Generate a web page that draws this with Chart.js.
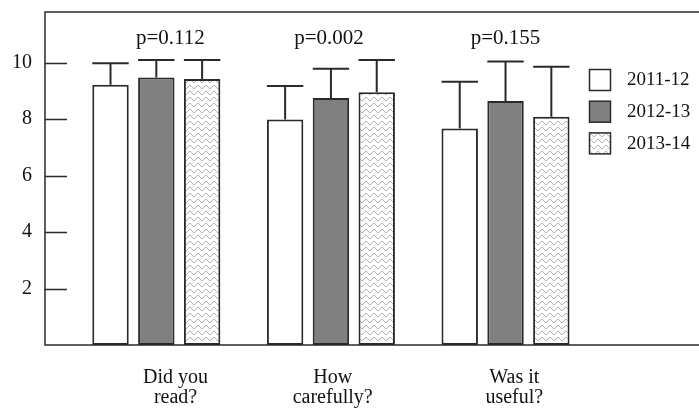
<!DOCTYPE html>
<html>
<head>
<meta charset="utf-8">
<script src="https://cdn.jsdelivr.net/npm/chart.js@4.4.0/dist/chart.umd.min.js"></script>
<style>
  html, body { margin: 0; padding: 0; background: #fff; }
  #wrap { width: 699px; height: 415px; }
</style>
</head>
<body>
<div id="wrap"><canvas id="surveyChart" width="699" height="415"></canvas></div>
<script>
// values (mean score + upper error)
const questions = [['Did you', 'read?'], ['How', 'carefully?'], ['Was it', 'useful?']];
const years = ['2011-12', '2012-13', '2013-14'];
const mean1112 = [9.22, 7.99, 7.67];
const mean1213 = [9.48, 8.75, 8.65];
const mean1314 = [9.43, 8.96, 8.09];
const err1112 = [0.76, 1.19, 1.66];
const err1213 = [0.62, 1.04, 1.40];
const err1314 = [0.67, 1.14, 1.77];
const pValues = ['p=0.112', 'p=0.002', 'p=0.155'];
const yTicks = [2, 4, 6, 8, 10];

(function () {
  const FONT = '"Liberation Serif", "Times New Roman", serif';
  const INK = '#2a2a2a';

  // wavy hatch used by the 2013-14 bars
  function wavePattern() {
    const c = document.createElement('canvas');
    c.width = 8; c.height = 6;
    const g = c.getContext('2d');
    g.fillStyle = '#fff';
    g.fillRect(0, 0, 8, 6);
    g.strokeStyle = '#999';
    g.lineWidth = 1;
    g.beginPath();
    for (let x = 0; x <= 8; x += 0.5) {
      const y = 3 + 1.6 * Math.sin(x / 8 * Math.PI * 2);
      if (x === 0) g.moveTo(x, y); else g.lineTo(x, y);
    }
    g.stroke();
    return g.createPattern(c, 'repeat');
  }

  const ctx = document.getElementById('surveyChart').getContext('2d');
  const wave = wavePattern();
  const fills = ['#ffffff', '#808080', wave];
  const means = [mean1112, mean1213, mean1314];
  const errs = [err1112, err1213, err1314];
  const pShift = [14, -2, 0];          // small offsets of the p labels, px
  const labelPos = [1.11, 2.01, 3.05];  // where the question labels sit

  const datasets = years.map((yr, k) => ({
    label: yr,
    data: means[k].map((v, i) => ({ x: i + 1, y: v })),
    errors: errs[k],
    backgroundColor: fills[k],
    borderColor: INK,
    borderWidth: 2,
    borderSkipped: false,
    categoryPercentage: 0.787,
    barPercentage: 0.795
  }));

  const frame = {
    id: 'frame',
    afterDraw(chart) {
      const { ctx, chartArea: a, scales } = chart;
      const ys = scales.y, xs = scales.x;
      ctx.save();
      // axes + top border
      ctx.strokeStyle = INK;
      ctx.lineWidth = 1.5;
      ctx.beginPath();
      ctx.moveTo(chart.width, a.top); ctx.lineTo(a.left, a.top);
      ctx.lineTo(a.left, a.bottom); ctx.lineTo(chart.width, a.bottom);
      ctx.stroke();
      // inward tick marks
      ctx.beginPath();
      yTicks.forEach(t => {
        const py = Math.round(ys.getPixelForValue(t)) + 0.5;
        ctx.moveTo(a.left, py); ctx.lineTo(a.left + 22, py);
      });
      ctx.stroke();

      // error bars (upper only)
      ctx.lineWidth = 2;
      chart.data.datasets.forEach((ds, k) => {
        const meta = chart.getDatasetMeta(k);
        meta.data.forEach((bar, i) => {
          const top = ys.getPixelForValue(ds.data[i].y + ds.errors[i]);
          const half = bar.width / 2;
          ctx.beginPath();
          ctx.moveTo(bar.x, bar.y); ctx.lineTo(bar.x, top);
          ctx.moveTo(bar.x - half, top); ctx.lineTo(bar.x + half, top);
          ctx.stroke();
        });
      });

      // p values
      ctx.fillStyle = '#111';
      ctx.font = '21px ' + FONT;
      ctx.textAlign = 'center';
      ctx.textBaseline = 'alphabetic';
      pValues.forEach((p, i) => {
        ctx.fillText(p, xs.getPixelForValue(i + 1) + pShift[i], 44);
      });

      // legend inside the plot
      ctx.font = '19px ' + FONT;
      ctx.textAlign = 'left';
      ctx.textBaseline = 'middle';
      years.forEach((yr, k) => {
        const bx = 589.5, by = 69.5 + k * 31.7;
        ctx.fillStyle = fills[k];
        ctx.fillRect(bx, by, 21, 21);
        ctx.lineWidth = 1.5;
        ctx.strokeStyle = INK;
        ctx.strokeRect(bx, by, 21, 21);
        ctx.fillStyle = '#111';
        ctx.fillText(yr, 627, by + 11);
      });
      ctx.restore();
    }
  };

  try {
    new Chart(ctx, {
      type: 'bar',
      data: { datasets: datasets },
      options: {
        responsive: false,
        animation: false,
        devicePixelRatio: 1,
        layout: { padding: { top: 12, left: 0, right: 0, bottom: 0 } },
        plugins: { legend: { display: false }, tooltip: { enabled: false } },
        scales: {
          x: {
            type: 'linear',
            display: false,
            offset: false,
            min: 0.3625,
            max: 4.108,
            afterBuildTicks: s => { s.ticks = questions.map((q, i) => ({ value: i + 1 })); }
          },
          xl: {
            type: 'linear',
            position: 'bottom',
            offset: false,
            min: 0.3625,
            max: 4.108,
            grid: { display: false, drawTicks: false },
            border: { display: false },
            afterBuildTicks: s => { s.ticks = labelPos.map(v => ({ value: v })); },
            afterFit: s => { s.height = 70; s.paddingLeft = 0; s.paddingRight = 0; },
            ticks: {
              autoSkip: false,
              maxRotation: 0,
              padding: 23,
              color: '#111',
              font: { family: FONT, size: 20, lineHeight: 1.0 },
              callback: (v, i) => questions[i]
            }
          },
          y: {
            min: 0,
            max: 11.8,
            grid: { display: false, drawTicks: false },
            border: { display: false },
            afterBuildTicks: s => { s.ticks = yTicks.map(v => ({ value: v })); },
            afterFit: s => { s.width = 45; s.paddingTop = 0; s.paddingBottom = 0; },
            ticks: {
              padding: 13,
              color: '#111',
              font: { family: FONT, size: 20 }
            }
          }
        }
      },
      plugins: [frame]
    });
  } catch (e) {
    console.error('chart failed:', e);
  }
})();
</script>
</body>
</html>
